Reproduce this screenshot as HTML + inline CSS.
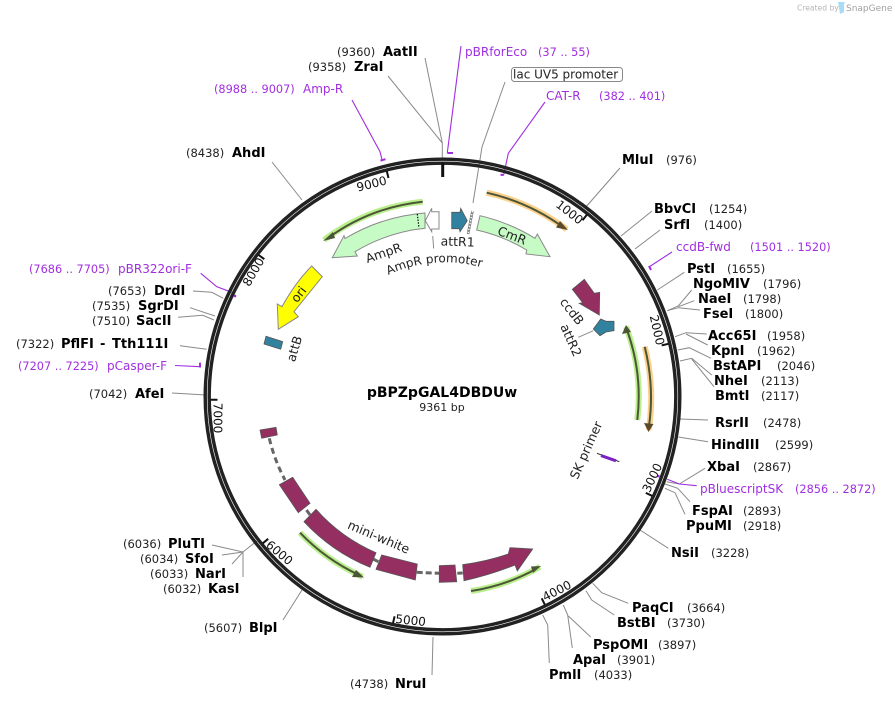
<!DOCTYPE html>
<html><head><meta charset="utf-8">
<style>
html,body{margin:0;padding:0;background:#fff;width:895px;height:702px;overflow:hidden}
svg{display:block;font-family:"DejaVu Sans",sans-serif}
.b{font-weight:700;font-size:13px;fill:#000}
.n{font-size:11.5px;fill:#222}
.p{font-size:12px;fill:#a12ee0}
.q{font-size:11.3px;fill:#a12ee0}
.f{font-size:12.5px;fill:#222}
.t{font-size:12px;fill:#111;text-anchor:middle}
.l{fill:none;stroke:#8a8a8a;stroke-width:1}
.v{fill:none;stroke:#a12ee0;stroke-width:1.1}
.w{fill:none;stroke:#a12ee0;stroke-width:2}
.g{fill:#c6fbc6;stroke:#888;stroke-width:1}
.m{fill:#952f62;stroke:#555;stroke-width:.8}
.c{fill:#31829f;stroke:#555;stroke-width:.8}
.d{fill:none;stroke:#666;stroke-width:3;stroke-dasharray:6 4}
.hg{fill:none;stroke:#b9ef8c;stroke-width:6}
.ho{fill:none;stroke:#fbd08a;stroke-width:6}
.pl{fill:none;stroke:#4d5537;stroke-width:2}
.tk{stroke:#111;stroke-width:2}
</style></head>
<body>
<svg width="895" height="702" viewBox="0 0 895 702" xmlns="http://www.w3.org/2000/svg">
<defs>
<path id="ap" d="M386 276 A135 135 0 0 1 484 268"/>
</defs>

<!-- snapgene badge -->
<text x="797" y="10.5" font-size="7.6" fill="#b5b5b5">Created by</text>
<path d="M838 2h7l-1 2v8l-4 2z" fill="#a8dcf5"/>
<text x="846" y="11" font-size="9" fill="#a0a0a0">SnapGene</text>

<!-- leaders -->
<g class="l">
<path class="l" d="M425 58L442.3 143V158"/>
<path class="l" d="M388 76L442.3 143"/>
<path class="l" d="M505 82L482 147L473 203"/>
<path class="l" d="M272 162L302 200"/>
<path class="l" d="M193 291L211.7 292.3L223.3 298.3"/>
<path class="l" d="M190 307.7L215 316"/>
<path class="l" d="M178 317.3L202.7 315.3L214 320"/>
<path class="l" d="M180 345.7L206.7 349.3"/>
<path class="l" d="M172 393L206 395"/>
<path class="l" d="M283 620L302 590"/>
<path class="l" d="M212 545L243 552L253 544L260 539"/>
<path class="l" d="M222 555L243 552"/>
<path class="l" d="M232 564L243 552"/>
<path class="l" d="M243 577V552"/>
<path class="l" d="M432 675L433 637"/>
<path class="l" d="M542.7 615L547.7 625L549.3 663"/>
<path class="l" d="M563.3 605L567.7 615L572.3 648"/>
<path class="l" d="M568.3 616L590.7 637"/>
<path class="l" d="M586 590.7L591.7 600L614.3 615"/>
<path class="l" d="M592.7 583.3L601.7 592.7L628.3 603.3"/>
<path class="l" d="M640 530L668.3 548.3"/>
<path class="l" d="M685 514.3L675 492.7L665 488.3"/>
<path class="l" d="M690 501.7L677.7 488.3L665 484"/>
<path class="l" d="M705 468.3L679.3 484L666.7 481.7"/>
<path class="l" d="M708 441.7L678.3 437"/>
<path class="l" d="M708 420L680 419"/>
<path class="l" d="M714 386.7L691.7 359"/>
<path class="l" d="M711.7 375L691.7 358.3L680 361"/>
<path class="l" d="M711 358.3L689.3 347.7L677.7 350"/>
<path class="l" d="M707.7 345L686 334"/>
<path class="l" d="M706.7 334L686 332.7L675 336.7"/>
<path class="l" d="M700 310L678.3 307.7L667.3 310.7"/>
<path class="l" d="M694.3 300.7L678.3 306.7"/>
<path class="l" d="M691.7 290L678.3 306L667.3 310.7"/>
<path class="l" d="M684.3 272.3L657.3 290"/>
<path class="l" d="M660 230L635 249"/>
<path class="l" d="M652 211L621 236"/>
<path class="l" d="M620 168L585 208"/>
<path class="l" d="M432.7 236L433.7 248.5"/>
<path class="l" d="M578.3 337.3L593.3 330.7"/>
</g>

<!-- purple leaders -->
<path class="v" d="M461 46L447.3 152.7"/><path class="w" d="M447.3 153H453"/>
<path class="v" d="M545 102L508.3 153.3L503.8 174.5"/><path class="w" d="M500.5 174.7L503.8 175"/>
<path class="v" d="M352 100L380 151.7L382 159.7"/><path class="w" d="M380.5 160.6L385.5 159.2"/>
<path class="v" d="M200.7 273.3L216.7 286.7L231.7 292.3"/>
<rect x="233.8" y="294.8" width="2.4" height="2.4" fill="#a12ee0"/>
<path class="v" d="M175 365.5L200 366.7"/><path class="w" d="M200 367.5V362.7"/>
<path class="v" d="M672 252L649 267"/><path class="w" d="M649 266L651 270"/>
<path class="v" d="M696.7 485.7L679.3 484L667.3 479.3"/>
<rect x="657.2" y="474.9" width="2.4" height="2.4" fill="#a12ee0"/>

<!-- ring -->
<circle cx="442.5" cy="396.5" r="237.3" fill="none" stroke="#222" stroke-width="3.4"/>
<circle cx="442.5" cy="396.5" r="233.3" fill="none" stroke="#222" stroke-width="3.4"/>

<!-- ticks -->
<path d="M442.7 163V177" stroke="#111" stroke-width="3"/>
<path class="tk" d="M586.8 214.9L582.5 220.3M668.5 343.8L661.7 345.4M652.1 495.9L645.8 492.9M544.8 604.6L541.7 598.3M393 623.2L394.6 616.3M262.8 543.3L268.2 538.8M210.5 399.7L217.5 399.7M258.7 255L264.3 259.2M386.8 171.2L388.5 178"/>
<g>
<text class="t" transform="translate(372.6,187.9) rotate(-14)">9000</text>
<text class="t" transform="translate(567,215.5) rotate(38)">1000</text>
<text class="t" transform="translate(653,331) rotate(77)">2000</text>
<text class="t" transform="translate(656,479.6) rotate(-65)">3000</text>
<text class="t" transform="translate(558.7,594.5) rotate(-27)">4000</text>
<text class="t" transform="translate(410.2,624.5) rotate(6)">5000</text>
<text class="t" transform="translate(276.8,556) rotate(40)">6000</text>
<text class="t" transform="translate(213.5,418) rotate(90)">7000</text>
<text class="t" transform="translate(257,274) rotate(-60)">8000</text>
</g>

<!-- primers -->
<path class="hg" d="M422.7 201.7A196 196 0 0 0 324 240"/>
<path class="pl" d="M422.7 201.7A196 196 0 0 0 328 238"/>
<polygon points="323,241 333,232 335,238" fill="#4d5537"/>
<path class="ho" d="M486.7 192.7A208 208 0 0 1 566.7 229.3"/>
<path class="pl" d="M486.7 192.7A208 208 0 0 1 563 227"/>
<polygon points="568,230 556,227.5 560,221" fill="#5a4a2a"/>
<path class="hg" d="M637.3 420A196 196 0 0 0 626 326.7"/>
<path class="pl" d="M637.3 420A196 196 0 0 0 627 330"/>
<polygon points="626,325 622,334 631,332" fill="#4d5537"/>
<path class="ho" d="M644.7 346.7A208 208 0 0 1 648.7 430"/>
<path class="pl" d="M644.7 346.7A208 208 0 0 1 649 426"/>
<polygon points="648.5,432 644,423 653.5,424" fill="#5a4a2a"/>
<path class="hg" d="M300 532.7A197 197 0 0 0 362.7 576.7"/>
<path class="pl" d="M300 532.7A197 197 0 0 0 359 575"/>
<polygon points="364,577.5 352,577 356,570" fill="#4d5537"/>
<path class="hg" d="M471 591A197 197 0 0 0 540 566.7"/>
<path class="pl" d="M471 591A197 197 0 0 0 536 569"/>
<polygon points="541,566 533,573 531,566.5" fill="#4d5537"/>

<!-- features -->
<path class="g" d="M425 213A184 184 0 0 0 345 238.5L344 235.7L332.3 257.7L357.3 256L355 251.7A169 169 0 0 1 425 228.3Z"/>
<path d="M417.3 214L419 228" stroke="#000" stroke-width="1.2" stroke-dasharray="1.4 1.4" fill="none"/>
<polygon points="439,211.7 439,229 431.7,229 431.7,231.7 425.3,220.7 431.7,208.3 431.7,211.7" fill="#fff" stroke="#888" stroke-width="1"/>
<polygon class="c" points="451.7,212.3 460,212.3 460.7,208.3 467.3,220.7 460,231.7 459.3,228.7 451.7,228.7"/>
<path d="M472.5 211L468 234" stroke="#777" stroke-width="2.6" fill="none"/>
<path d="M472.5 211L468 234" stroke="#fff" stroke-width="1.4" stroke-dasharray="1.5 1.5" fill="none"/>
<path class="g" d="M480 215.7A184 184 0 0 1 535 238.3L537.3 234L550 256.7L526 254L526.7 250A169 169 0 0 0 476.7 230Z"/>
<polygon class="m" points="572.3,289.3 584.3,279.3 594.3,293.3 599.7,292.3 599.3,315 579.3,303.3 582.7,302.7"/>
<polygon class="c" points="593.3,329 600.7,319 606,321.3 614,321.3 614,330.7 606,332 600,335.7"/>
<path d="M597 453.3L619.3 461.7" stroke="#222" stroke-width="1"/>
<path d="M601 455.6L616 460.8" stroke="#7a22c4" stroke-width="3"/>
<path d="M311.7 266L322.3 276.7L294 311.7L298.3 316.7L278.3 329.3L277.3 304L282 306.7Q295 283 311.7 266Z" fill="#ffff00" stroke="#888" stroke-width="1"/>
<polygon class="c" points="266,336.3 282.7,341.7 280.7,349.3 264,344"/>

<!-- mini-white -->
<path class="d" d="M269.3 438.3A176 176 0 0 0 285 480"/>
<path class="d" d="M306.5 510L310 515" stroke-dasharray="none"/>
<path d="M373 559L379 562M416.7 572.3L439.3 573.3M457.3 573.3L462.7 573" fill="none" stroke="#666" stroke-width="3" stroke-dasharray="6 3"/>
<polygon class="m" points="260,430 276,427.3 277.3,435 261.7,438.3"/>
<polygon class="m" points="279.3,484.7 292.7,477.3 310,503.3 298.3,512.7"/>
<path class="m" d="M304 521.7L316 509.3A169.5 169.5 0 0 0 376 552.7L370 567.3A186 186 0 0 1 304 521.7Z"/>
<polygon class="m" points="381.7,555 417.3,564 415.3,580 376,569.3"/>
<polygon class="m" points="439.3,565.7 455,565 456.7,581.7 439.3,582.3"/>
<path class="m" d="M462.7 564.7Q488 561 508.3 554L510 547.7L532.7 549L517.3 571L515 565Q490 575 464 580.7Z"/>

<!-- feature labels -->
<text class="f" text-anchor="middle" transform="translate(385,257) rotate(-19)">AmpR</text>
<text class="f" style="font-size:12px"><textPath href="#ap" startOffset="50%" text-anchor="middle">AmpR promoter</textPath></text>
<text class="f" text-anchor="middle" transform="translate(457.5,246) rotate(2)">attR1</text>
<text class="f" text-anchor="middle" transform="translate(510.5,239.5) rotate(21)">CmR</text>
<text class="f" text-anchor="middle" transform="translate(568.5,314) rotate(52)">ccdB</text>
<text class="f" text-anchor="middle" transform="translate(567,342) rotate(66)">attR2</text>
<text class="f" text-anchor="middle" transform="translate(590,452) rotate(-66)">SK primer</text>
<text class="f" text-anchor="middle" transform="translate(298.5,350) rotate(-73)">attB</text>
<text class="f" text-anchor="middle" transform="translate(302,297) rotate(-52) ">ori</text>
<text class="f" text-anchor="middle" transform="translate(377,541) rotate(23)">mini-white</text>

<!-- centre -->
<text x="442" y="397" text-anchor="middle" font-weight="700" font-size="14" fill="#000">pBPZpGAL4DBDUw</text>
<text x="442" y="411" text-anchor="middle" font-size="11" fill="#222">9361 bp</text>

<!-- lac UV5 -->
<rect x="511.5" y="67.5" width="111" height="14" rx="3" fill="#fff" stroke="#888"/>
<text x="513" y="78.5" font-size="12" fill="#222">lac UV5 promoter</text>

<!-- purple labels -->
<text class="p" x="465" y="56">pBRforEco</text><text class="q" x="538" y="56">(37 .. 55)</text>
<text class="p" x="546" y="100">CAT-R</text><text class="q" x="599" y="100">(382 .. 401)</text>
<text class="q" x="214" y="93">(8988 .. 9007)</text><text class="p" x="303" y="93">Amp-R</text>
<text class="q" x="29" y="273">(7686 .. 7705)</text><text class="p" x="118" y="273">pBR322ori-F</text>
<text class="q" x="18" y="370">(7207 .. 7225)</text><text class="p" x="107" y="370">pCasper-F</text>
<text class="p" x="676" y="251">ccdB-fwd</text><text class="q" x="750" y="251">(1501 .. 1520)</text>
<text class="p" x="700" y="493">pBluescriptSK</text><text class="q" x="795" y="493">(2856 .. 2872)</text>

<!-- enzymes left/top -->
<text class="n" x="337" y="56">(9360)</text><text class="b" x="383" y="56">AatII</text>
<text class="n" x="308" y="71">(9358)</text><text class="b" x="354" y="71">ZraI</text>
<text class="n" x="186" y="157">(8438)</text><text class="b" x="232" y="157">AhdI</text>
<text class="n" x="108" y="295">(7653)</text><text class="b" x="154" y="295">DrdI</text>
<text class="n" x="92" y="310">(7535)</text><text class="b" x="138" y="310">SgrDI</text>
<text class="n" x="92" y="325">(7510)</text><text class="b" x="136" y="325">SacII</text>
<text class="n" x="16" y="348">(7322)</text><text class="b" x="61" y="348">PflFI</text><text class="b" x="100" y="348">-</text><text class="b" x="112" y="348">Tth111I</text>
<text class="n" x="89" y="398">(7042)</text><text class="b" x="135" y="398">AfeI</text>
<text class="n" x="123" y="548">(6036)</text><text class="b" x="168" y="548">PluTI</text>
<text class="n" x="140" y="563">(6034)</text><text class="b" x="185" y="563">SfoI</text>
<text class="n" x="150" y="578">(6033)</text><text class="b" x="195" y="578">NarI</text>
<text class="n" x="163" y="593">(6032)</text><text class="b" x="208" y="593">KasI</text>
<text class="n" x="204" y="632">(5607)</text><text class="b" x="249" y="632">BlpI</text>
<text class="n" x="350" y="688">(4738)</text><text class="b" x="395" y="688">NruI</text>

<!-- enzymes right -->
<text class="b" x="622" y="164">MluI</text><text class="n" x="666" y="164">(976)</text>
<text class="b" x="654" y="213">BbvCI</text><text class="n" x="709" y="213">(1254)</text>
<text class="b" x="664" y="229">SrfI</text><text class="n" x="704" y="229">(1400)</text>
<text class="b" x="687" y="273">PstI</text><text class="n" x="727" y="273">(1655)</text>
<text class="b" x="693" y="288">NgoMIV</text><text class="n" x="763" y="288">(1796)</text>
<text class="b" x="698" y="303">NaeI</text><text class="n" x="743" y="303">(1798)</text>
<text class="b" x="703" y="318">FseI</text><text class="n" x="745" y="318">(1800)</text>
<text class="b" x="708" y="340">Acc65I</text><text class="n" x="767" y="340">(1958)</text>
<text class="b" x="711" y="355">KpnI</text><text class="n" x="757" y="355">(1962)</text>
<text class="b" x="713" y="370">BstAPI</text><text class="n" x="777" y="370">(2046)</text>
<text class="b" x="714" y="385">NheI</text><text class="n" x="761" y="385">(2113)</text>
<text class="b" x="715" y="400">BmtI</text><text class="n" x="761" y="400">(2117)</text>
<text class="b" x="715" y="427">RsrII</text><text class="n" x="763" y="427">(2478)</text>
<text class="b" x="711" y="449">HindIII</text><text class="n" x="775" y="449">(2599)</text>
<text class="b" x="707" y="471">XbaI</text><text class="n" x="753" y="471">(2867)</text>
<text class="b" x="692" y="515">FspAI</text><text class="n" x="743" y="515">(2893)</text>
<text class="b" x="686" y="530">PpuMI</text><text class="n" x="743" y="530">(2918)</text>
<text class="b" x="671" y="557">NsiI</text><text class="n" x="711" y="557">(3228)</text>
<text class="b" x="632" y="612">PaqCI</text><text class="n" x="687" y="612">(3664)</text>
<text class="b" x="617" y="627">BstBI</text><text class="n" x="667" y="627">(3730)</text>
<text class="b" x="593" y="649">PspOMI</text><text class="n" x="658" y="649">(3897)</text>
<text class="b" x="573" y="664">ApaI</text><text class="n" x="617" y="664">(3901)</text>
<text class="b" x="549" y="679">PmlI</text><text class="n" x="594" y="679">(4033)</text>
</svg>
</body></html>
